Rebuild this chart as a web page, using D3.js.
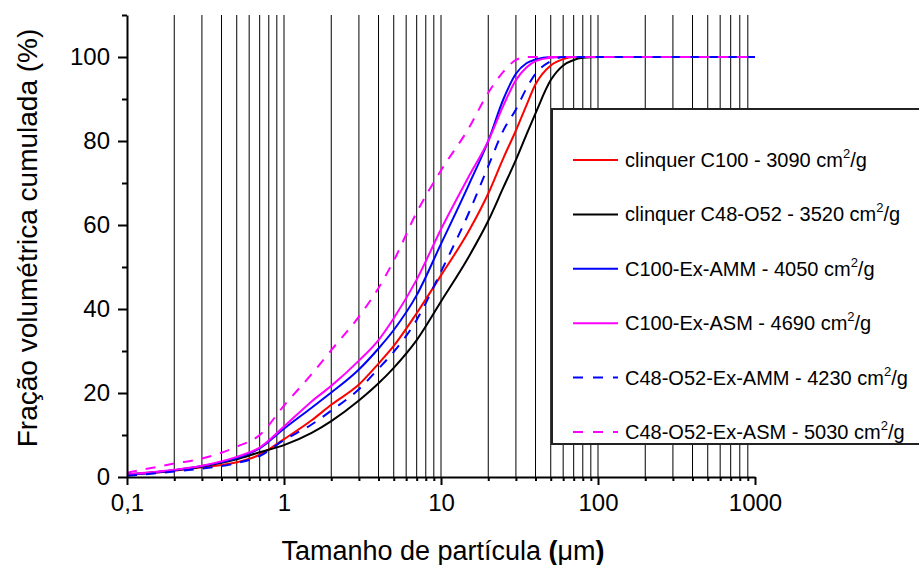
<!DOCTYPE html>
<html><head><meta charset="utf-8">
<script src="https://cdnjs.cloudflare.com/ajax/libs/d3/7.8.5/d3.min.js"></script>
<style>
html,body{margin:0;padding:0;background:#fff;}
svg{display:block;font-family:"Liberation Sans",Arial,sans-serif;}
</style></head>
<body>
<svg id="chart" width="919" height="565"></svg>
<script>
// ---- data ----
const sizes = [0.1, 0.2, 0.3, 0.5, 0.7, 1, 1.5, 2, 3, 4, 5, 7, 10, 15, 20, 25, 30, 35, 40, 50, 60, 70, 80, 100, 1000];
const c100 =        [0.5, 1.5, 2.3, 3.5, 5.3, 9.0, 13.5, 17.2, 22.0, 27.0, 31.2, 39.0, 48.0, 58.5, 67.5, 76.0, 82.5, 88.5, 93.5, 98.0, 99.5, 100, 100, 100, 100];
const c48o52 =      [0.6, 1.6, 2.5, 4.2, 5.9, 7.6, 10.5, 13.3, 18.2, 22.3, 26.0, 32.6, 41.8, 52.4, 61.0, 69.0, 75.5, 81.5, 86.6, 94.5, 98.0, 99.3, 99.8, 100, 100];
const c100AMM =     [0.5, 1.6, 2.6, 4.5, 6.8, 11.5, 16.5, 20.1, 25.6, 30.6, 35.0, 43.3, 55.5, 69.5, 80.0, 90.0, 96.0, 98.5, 99.4, 100, 100, 100, 100, 100, 100];
const c100ASM =     [0.6, 1.7, 2.7, 4.8, 7.0, 12.0, 18.0, 21.7, 27.7, 32.6, 37.8, 47.0, 59.0, 71.5, 80.0, 88.5, 94.5, 97.5, 99.0, 99.8, 100, 100, 100, 100, 100];
const c48AMM =      [0.3, 1.3, 2.0, 3.3, 5.0, 8.8, 12.5, 15.8, 20.9, 25.8, 29.8, 37.4, 48.9, 62.8, 74.0, 82.6, 87.5, 92.5, 96.0, 99.0, 100, 100, 100, 100, 100];
const c48ASM =      [1.0, 3.2, 4.4, 7.2, 10.0, 17.0, 24.5, 30.2, 38.2, 45.0, 51.5, 63.0, 73.0, 83.0, 91.5, 96.5, 99.3, 100, 100, 100, 100, 100, 100, 100, 100];
const seriesNames = [
  ["clinquer C100 - 3090 cm", "/g"],
  ["clinquer C48-O52 - 3520 cm", "/g"],
  ["C100-Ex-AMM - 4050 cm", "/g"],
  ["C100-Ex-ASM - 4690 cm", "/g"],
  ["C48-O52-Ex-AMM - 4230 cm", "/g"],
  ["C48-O52-Ex-ASM - 5030 cm", "/g"]
];
const xTickValues = [0.1, 1, 10, 100, 1000];
const xTickLabels = ["0,1", "1", "10", "100", "1000"];
const yTickValues = [0, 20, 40, 60, 80, 100];
const xTitle = "Tamanho de partícula ";
const yTitle = "Fração volumétrica cumulada (%)";

// ---- styling ----
const seriesValues = [c100, c48o52, c100AMM, c100ASM, c48AMM, c48ASM];
const colors = ["#ff0000", "#000000", "#0000ff", "#ff00ff", "#0000ff", "#ff00ff"];
const dashes = [null, null, null, null, "10,9", "10,9"];
const legDashes = [null, null, null, null, "10,10", "10,10"];

const svg = d3.select("#chart");
const x = d3.scaleLog().domain([0.1, 1000]).range([127, 755]);
const y = d3.scaleLinear().domain([0, 110]).range([477, 15]);

// minor positions
const minor = [];
for (let d = 0.1; d < 1000; d *= 10) {
  for (let k = 1; k <= 9; k++) minor.push(+(d * k).toPrecision(3));
}
// vertical grid lines
svg.append("g").selectAll("line").data(minor.filter(v => v > 0.1 && v < 1000)).join("line")
  .attr("x1", d => x(d)).attr("x2", d => x(d))
  .attr("y1", y(110)).attr("y2", y(0))
  .attr("stroke", "#000").attr("stroke-width", 1);

// curves
const line = d3.line().x((d, i) => x(sizes[i])).y(d => y(d)).curve(d3.curveMonotoneX);
seriesValues.forEach((vals, i) => {
  svg.append("path").datum(vals).attr("d", line)
    .attr("fill", "none").attr("stroke", colors[i]).attr("stroke-width", 2)
    .attr("stroke-dasharray", dashes[i]);
});

// axes
const xAxis = d3.axisBottom(x).tickValues(xTickValues).tickFormat((d, i) => xTickLabels[i]).tickSize(8).tickSizeOuter(0);
const gx = svg.append("g").attr("transform", `translate(0,${y(0)})`).call(xAxis);
gx.attr("font-family", null);
gx.selectAll("text").attr("font-size", 24).attr("fill", "#000").attr("dy", "0.95em");
gx.selectAll("path,line").attr("stroke", "#000").attr("stroke-width", 2);
const gxm = svg.append("g").attr("transform", `translate(0,${y(0)})`)
  .call(d3.axisBottom(x).tickValues(minor.filter(v => xTickValues.indexOf(v) < 0)).tickSize(4).tickFormat(""));
gxm.select(".domain").remove();
gxm.selectAll("line").attr("stroke", "#000").attr("stroke-width", 2);

const yAxis = d3.axisLeft(y).tickValues(yTickValues).tickSize(9).tickSizeOuter(0);
const gy = svg.append("g").attr("transform", `translate(${x(0.1)},0)`).call(yAxis);
gy.attr("font-family", null);
gy.selectAll("text").attr("font-size", 24).attr("fill", "#000").attr("x", -17);
gy.selectAll("path,line").attr("stroke", "#000").attr("stroke-width", 2);
const gym = svg.append("g").attr("transform", `translate(${x(0.1)},0)`)
  .call(d3.axisLeft(y).tickValues([10, 30, 50, 70, 90, 110]).tickSize(5).tickFormat(""));
gym.select(".domain").remove();
gym.selectAll("line").attr("stroke", "#000").attr("stroke-width", 2);

// titles
const xt = svg.append("text").attr("x", 443).attr("y", 560).attr("text-anchor", "middle")
  .attr("font-size", 27).attr("fill", "#000");
xt.append("tspan").text(xTitle);
xt.append("tspan").attr("font-weight", "bold").text("(");
xt.append("tspan").text("μm");
xt.append("tspan").attr("font-weight", "bold").text(")");

svg.append("text").attr("transform", "translate(37,238) rotate(-90)").attr("text-anchor", "middle")
  .attr("font-size", 28).attr("fill", "#000").text(yTitle);

// legend
const lg = svg.append("g");
lg.append("rect").attr("x", 552).attr("y", 109).attr("width", 380).attr("height", 335)
  .attr("fill", "#fff").attr("stroke", "#222").attr("stroke-width", 2);
const legY = d3.scalePoint().domain(d3.range(6)).range([160, 432]);
seriesNames.forEach((nm, i) => {
  const yy = legY(i);
  lg.append("line").attr("x1", 573).attr("x2", 618).attr("y1", yy).attr("y2", yy)
    .attr("stroke", colors[i]).attr("stroke-width", 2).attr("stroke-dasharray", legDashes[i]);
  const t = lg.append("text").attr("x", 625).attr("y", yy + 7).attr("font-size", 20).attr("fill", "#000");
  t.append("tspan").text(nm[0]);
  t.append("tspan").attr("font-size", 13).attr("dy", -9).text("2");
  t.append("tspan").attr("dy", 9).text(nm[1]);
});
</script>
</body></html>
